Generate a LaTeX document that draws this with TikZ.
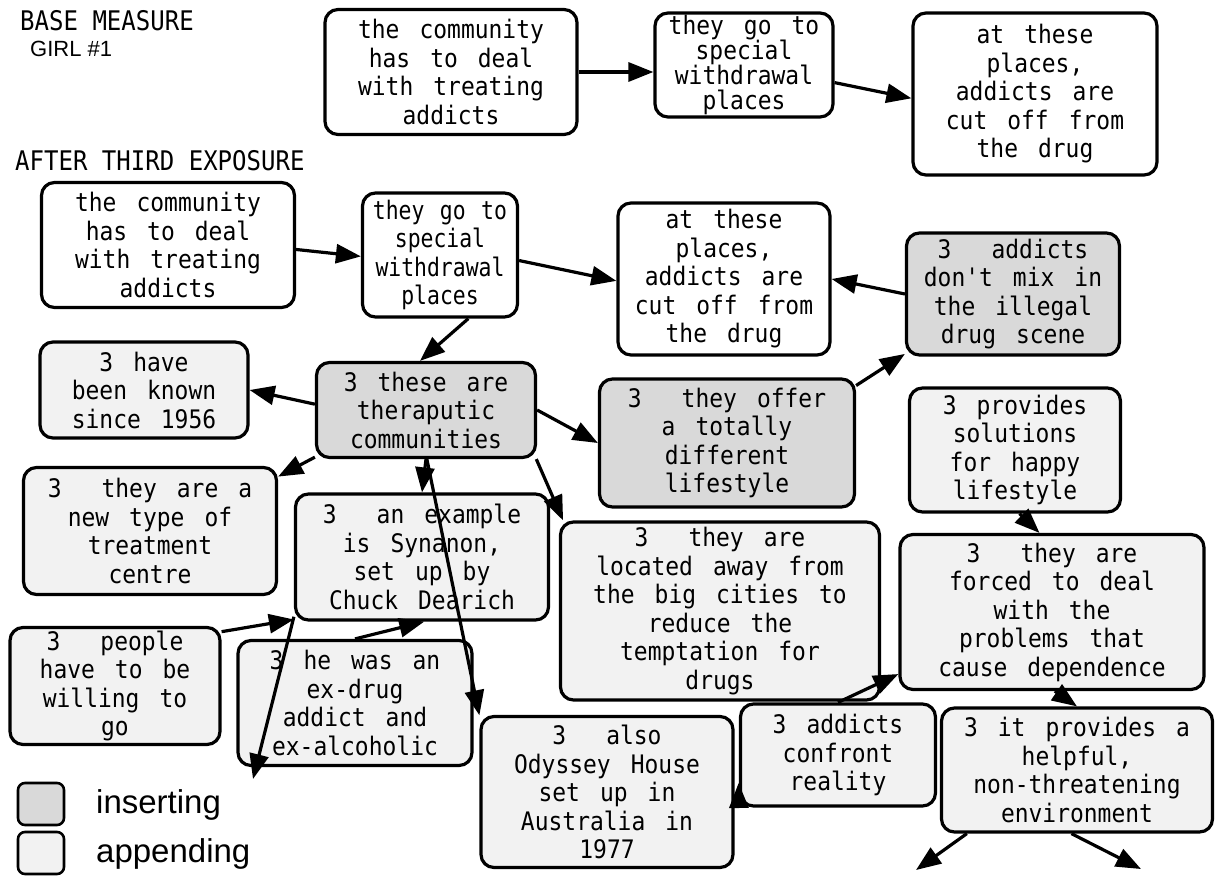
\documentclass[tikz,border=0pt]{standalone}
\usepackage{fontspec}
\usetikzlibrary{arrows.meta}
\setmainfont{Liberation Sans}
\newfontfamily\boxfamily{DejaVu Sans Mono}[FakeStretch=0.9,WordSpace=1.45]
\newfontfamily\narrowboxfamily{DejaVu Sans Mono}[FakeStretch=0.84,WordSpace=1.2]
\newfontfamily\headfamily{DejaVu Sans Mono}[FakeStretch=0.89]
\newfontfamily\labelfamily{Liberation Sans}
\newcommand{\boxfont}{\boxfamily\fontsize{25.5}{28.5}\selectfont}
\newcommand{\tightboxfont}{\boxfamily\fontsize{25.5}{25}\selectfont}
\newcommand{\narrowboxfont}{\narrowboxfamily\fontsize{25.5}{28.5}\selectfont}
\newcommand{\headfont}{\headfamily\fontsize{27}{30}\selectfont}
\definecolor{insertfill}{gray}{0.85}
\definecolor{appendfill}{gray}{0.95}
\tikzset{
  idea/.style={draw, line width=3.2pt, rounded corners=13pt, align=center,
    inner sep=0pt, font=\boxfont, fill=white},
  inserted/.style={idea, fill=insertfill},
  appended/.style={idea, fill=appendfill},
  link/.style={line width=3.2pt, -{Triangle[length=25pt,width=19pt]}},
  legendbox/.style={draw, line width=2.6pt, rounded corners=7pt,
    minimum width=46pt, minimum height=42pt, inner sep=0pt},
}
\begin{document}
\begin{tikzpicture}[x=1pt, y=-1pt]
\useasboundingbox (0,0) rectangle (1231,880);
\fill[white] (0,0) rectangle (1231,880);

% headings
\node[anchor=base west, inner sep=0pt, font=\headfont] (base) at (20,31) {BASE MEASURE};
\node[anchor=base west, inner sep=0pt, font=\labelfamily\fontsize{22}{26}\selectfont] (girl) at (30,57) {GIRL \#1};
\node[anchor=base west, inner sep=0pt, font=\headfont] (after) at (15,171) {AFTER THIRD EXPOSURE};

% base measure chain
\node[idea, minimum width=252pt, minimum height=125pt] (a1) at (451,72)
  {the community\\has to deal\\with treating\\addicts};
\node[idea, font=\tightboxfont, minimum width=178pt, minimum height=104pt] (a2) at (744,65)
  {they go to\\special\\withdrawal\\places};
\node[idea, minimum width=244pt, minimum height=162pt] (a3) at (1035,94)
  {at these\\places,\\addicts are\\cut off from\\the drug};

% after third exposure
\node[idea, minimum width=253pt, minimum height=125pt] (b1) at (168,245)
  {the community\\has to deal\\with treating\\addicts};
\node[idea, font=\narrowboxfont, minimum width=155pt, minimum height=124pt] (b2) at (440,255)
  {they go to\\special\\withdrawal\\places};
\node[idea, minimum width=212pt, minimum height=152pt] (b3) at (724,279)
  {at these\\places,\\addicts are\\cut off from\\the drug};
\node[inserted, minimum width=213pt, minimum height=122pt] (b4) at (1013,294)
  {3\ \ addicts\\don't mix in\\the illegal\\drug scene};

\node[appended, minimum width=208pt, minimum height=96pt] (c1) at (144,390)
  {3 have\\been known\\since 1956};
\node[inserted, minimum width=219pt, minimum height=95pt] (c2) at (426,410)
  {3 these are\\theraputic\\communities};
\node[inserted, minimum width=255pt, minimum height=128pt] (c3) at (727,443)
  {3\ \ they offer\\a totally\\different\\lifestyle};
\node[appended, minimum width=211pt, minimum height=124pt] (c4) at (1015,450)
  {3 provides\\solutions\\for happy\\lifestyle};

\node[appended, minimum width=253pt, minimum height=127pt] (d1) at (150,531)
  {3\ \ they are a\\new type of\\treatment\\centre};
\node[appended, minimum width=253pt, minimum height=126pt] (d2) at (422,557)
  {3\ \ an example\\is Synanon,\\set up by\\Chuck Dearich};
\node[appended, minimum width=319pt, minimum height=178pt] (d3) at (720,611)
  {3\ \ they are\\located away from\\the big cities to\\reduce the\\temptation for\\drugs};
\node[appended, minimum width=304pt, minimum height=155pt] (d4) at (1052,612)
  {3\ \ they are\\forced to deal\\with the\\problems that\\cause dependence};
\node[appended, minimum width=210pt, minimum height=117pt] (d6) at (115,686)
  {3\ \ people\\have to be\\willing to\\go};
\node[appended, minimum width=234pt, minimum height=125pt] (d5) at (355,703)
  {3 he was an\\ex-drug\\addict and\\ex-alcoholic};

\node[appended, minimum width=252pt, minimum height=151pt] (e1) at (607,792)
  {3\ \ also\\Odyssey House\\set up in\\Australia in\\1977};
\node[appended, minimum width=195pt, minimum height=102pt] (e2) at (838,755)
  {3 addicts\\confront\\reality};
\node[appended, minimum width=271pt, minimum height=124pt] (e3) at (1077,770)
  {3 it provides a\\helpful,\\non-threatening\\environment};

% loose arrow ends
\coordinate (endd2) at (253,779);
\coordinate (ende3a) at (916,870);
\coordinate (ende3b) at (1141,869);

% connectors, base measure
\draw[link] (a1.east) -- (a1.east -| a2.west);
\draw[link] (a2.-11) -- (a3.182);

% connectors, after third exposure
\draw[link] (b1.-2) -- (b2.181);
\draw[link] (b2.-4) -- (b3.181);
\draw[link] (b4.west) -- (b3.east);
\draw[link] (b2.-66) -- (c2.97);
\draw[link] (c2.177) -- (c1.east);
\draw[link] (c2.east) -- (c3.west);
\draw[link] (c3.24) -- (b4.209);
\draw[link] (c2.203) -- (d1.23);
\draw[link] (c2.south) -- (d2.north);
\draw[link] (c2.-89) -- (e1.149);
\draw[link] (c2.-24) -- (d3.150);
\draw[link] (c4.-86) -- (d4.99);
\draw[link] (d6.27) -- (d2.206);
\draw[link] (d5.north) -- (d2.-88);
\draw[link] (d2.205) -- (endd2);
\draw[link] (e2.north) -- (d4.202);
\draw[link] (e2.south west) -- ([xshift=4pt,yshift=9pt]e1.east);
\draw[link] (d4.-88) -- (e3.north);
\draw[link] (e3.210) -- (ende3a);
\draw[link] (e3.-95) -- (ende3b);

% legend
\node[legendbox, fill=insertfill] (keyins) at (41,804) {};
\node[legendbox, fill=appendfill] (keyapp) at (41,853) {};
\node[anchor=base west, inner sep=0pt, font=\labelfamily\fontsize{33}{38}\selectfont] (keyinstext) at (96,813) {inserting};
\node[anchor=base west, inner sep=0pt, font=\labelfamily\fontsize{33}{38}\selectfont] (keyapptext) at (96,862) {appending};
\end{tikzpicture}
\end{document}
